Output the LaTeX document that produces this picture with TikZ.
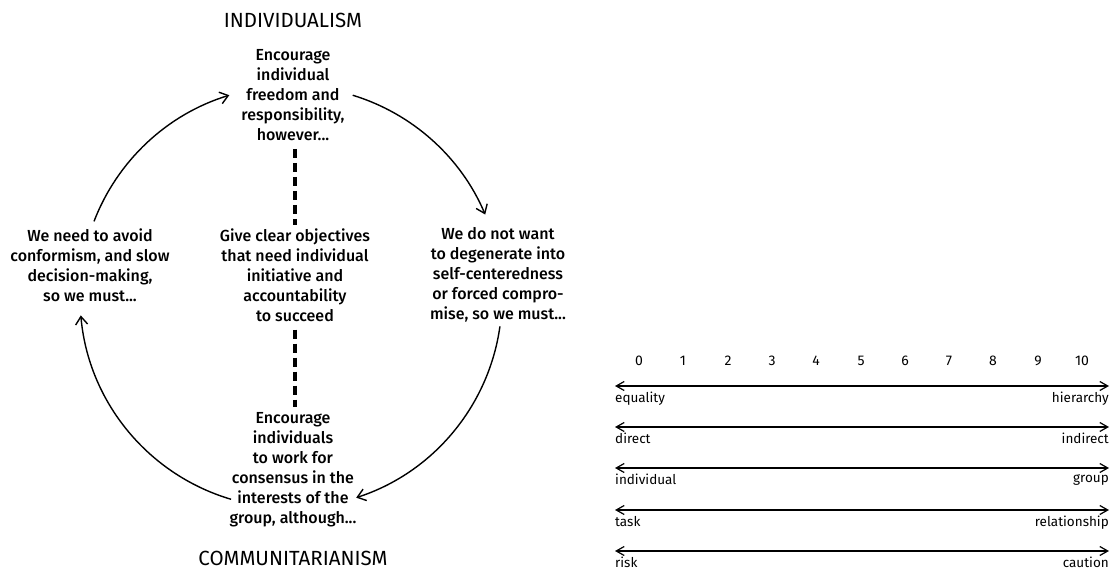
\documentclass[tikz,border=0pt]{standalone}
\usepackage{fontspec}
\setmainfont{Fira Sans Medium}
\newfontfamily\scalefont{Fira Sans}
\usepackage{tikz}
\usetikzlibrary{arrows.meta, positioning}

\begin{document}
\begin{tikzpicture}[x=1pt, y=1pt,
  node distance=10pt,
  txt/.style={align=center, inner sep=0pt, font=\fontsize{16}{20}\selectfont},
  head/.style={inner sep=0pt, font=\scalefont\fontsize{20.5}{24}\selectfont},
  num/.style={inner sep=0pt, font=\scalefont\fontsize{14}{16}\selectfont},
  lbl/.style={inner sep=0pt, font=\scalefont\fontsize{13.5}{15}\selectfont},
  cyclearrow/.style={-{Straight Barb[length=8pt,width=12pt]}, line width=1.4pt},
  scalearrow/.style={{Straight Barb[length=8pt,width=9pt]}-{Straight Barb[length=8pt,width=9pt]}, line width=1.2pt},
  dashline/.style={line width=3.2pt, dash pattern=on 9pt off 5pt},
]
  \useasboundingbox (0,0) rectangle (1120,-572);

  % the cycle
  \node[txt] (top) at (293,-95)
    {Encourage\\individual\\freedom and\\responsibility,\\however...};
  \node[txt] (left) at (90,-265)
    {We need to avoid\\conformism, and slow\\decision-making,\\so we must...};
  \node[txt] (mid) at (295,-275)
    {Give clear objectives\\that need individual\\initiative and\\accountability\\to succeed};
  \node[txt] (right) at (498,-275)
    {We do not want\\to degenerate into\\self-centeredness\\or forced compro-\\mise, so we must...};
  \node[txt] (bottom) at (293,-470)
    {Encourage\\individuals\\to work for\\consensus in the\\interests of the\\group, although...};

  \node[head, above=21pt of top] (indiv) {INDIVIDUALISM};
  \node[head, below=23pt of bottom] (commun) {COMMUNITARIANISM};

  \coordinate (hub) at (291,-297);
  \draw[cyclearrow] ([shift={(159:211pt)}]hub) arc[start angle=159, end angle=107, radius=211pt];
  \draw[cyclearrow] ([shift={(73:211pt)}]hub) arc[start angle=73, end angle=23, radius=211pt];
  \draw[cyclearrow] ([shift={(-8:211pt)}]hub) arc[start angle=-8, end angle=-72, radius=211pt];
  \draw[cyclearrow] ([shift={(253.5:211pt)}]hub) arc[start angle=253.5, end angle=185, radius=211pt];

  \draw[dashline] ([yshift=-8pt]top.south -| mid.north) -- ([yshift=3pt]mid.north);
  \draw[dashline] ([yshift=-8pt]mid.south) -- ([yshift=6pt]bottom.north -| mid.south);

  % the scales
  \node[num] (n0) at (639,-361) {0};
  \node[num] (n1) at (683,-361) {1};
  \node[num] (n2) at (728,-361) {2};
  \node[num] (n3) at (772,-361) {3};
  \node[num] (n4) at (816,-361) {4};
  \node[num] (n5) at (861,-361) {5};
  \node[num] (n6) at (905,-361) {6};
  \node[num] (n7) at (949,-361) {7};
  \node[num] (n8) at (993,-361) {8};
  \node[num] (n9) at (1038,-361) {9};
  \node[num] (n10) at (1082,-361) {10};

  \coordinate (s1w) at (615,-386);  \coordinate (s1e) at (1109,-386);
  \coordinate (s2w) at (615,-427);  \coordinate (s2e) at (1109,-427);
  \coordinate (s3w) at (615,-468);  \coordinate (s3e) at (1109,-468);
  \coordinate (s4w) at (615,-510);  \coordinate (s4e) at (1109,-510);
  \coordinate (s5w) at (615,-551);  \coordinate (s5e) at (1109,-551);

  \draw[scalearrow] (s1w) -- (s1e);
  \draw[scalearrow] (s2w) -- (s2e);
  \draw[scalearrow] (s3w) -- (s3e);
  \draw[scalearrow] (s4w) -- (s4e);
  \draw[scalearrow] (s5w) -- (s5e);

  \node[lbl, anchor=north west] (l1) at ([yshift=-6pt]s1w) {equality};
  \node[lbl, anchor=north east] (r1) at ([yshift=-6pt]s1e) {hierarchy};
  \node[lbl, anchor=north west] (l2) at ([yshift=-6pt]s2w) {direct};
  \node[lbl, anchor=north east] (r2) at ([yshift=-6pt]s2e) {indirect};
  \node[lbl, anchor=north west] (l3) at ([yshift=-6pt]s3w) {individual};
  \node[lbl, anchor=north east] (r3) at ([yshift=-6pt]s3e) {group};
  \node[lbl, anchor=north west] (l4) at ([yshift=-6pt]s4w) {task};
  \node[lbl, anchor=north east] (r4) at ([yshift=-6pt]s4e) {relationship};
  \node[lbl, anchor=north west] (l5) at ([yshift=-6pt]s5w) {risk};
  \node[lbl, anchor=north east] (r5) at ([yshift=-6pt]s5e) {caution};
\end{tikzpicture}
\end{document}
